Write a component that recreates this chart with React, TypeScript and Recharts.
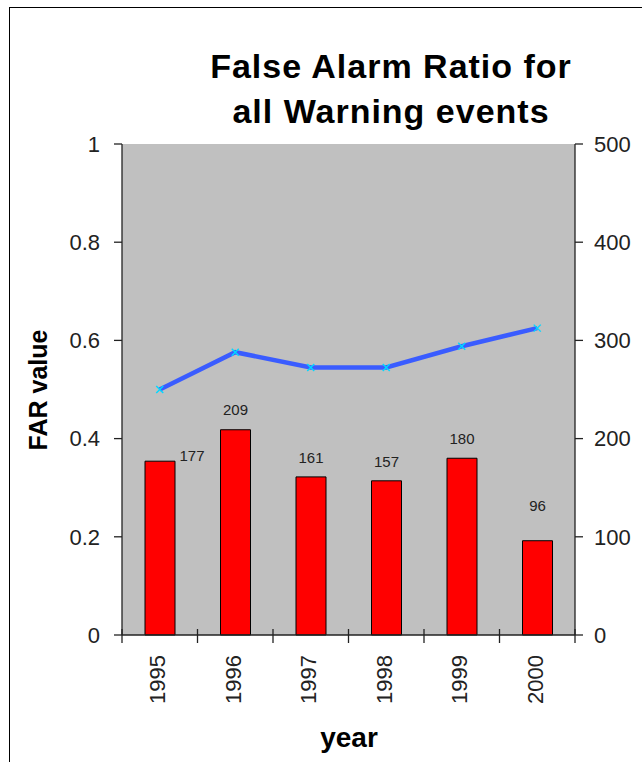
import React from "react";
import {
  ComposedChart,
  Bar,
  Line,
  XAxis,
  YAxis,
  CartesianGrid,
  LabelList,
} from "recharts";

const years = ["1995", "1996", "1997", "1998", "1999", "2000"];
const warningCounts = [177, 209, 161, 157, 180, 96];
const farValues = [0.5, 0.576, 0.545, 0.545, 0.588, 0.625];
const leftTicks = [0, 0.2, 0.4, 0.6, 0.8, 1];
const rightTicks = [0, 100, 200, 300, 400, 500];

const data = years.map((y, i) => ({
  year: y,
  count: warningCounts[i],
  far: farValues[i],
}));

// label placement tweaks (Excel labels were dragged by hand)
const labelShift = [
  { dx: 32, dy: 0 },
  { dx: 0, dy: -15 },
  { dx: 0, dy: -14 },
  { dx: 0, dy: -14 },
  { dx: 0, dy: -14 },
  { dx: 0, dy: -30 },
];

const FONT = "'Liberation Sans', Arial, Helvetica, sans-serif";

const XTick = (props: any) => {
  const { x, y, payload, index, visibleTicksCount } = props;
  const half = payload && payload.offset ? payload.offset : 37.75;
  const ay = 635;
  const lx = x - half;
  const isLast = index === (visibleTicksCount ?? 6) - 1;
  return (
    <g>
      <line x1={lx} y1={ay - 6} x2={lx} y2={ay + 8} stroke="#222" strokeWidth={1.3} />
      {isLast && (
        <line x1={x + half} y1={ay - 6} x2={x + half} y2={ay + 8} stroke="#222" strokeWidth={1.3} />
      )}
      <text
        x={0}
        y={0}
        transform={`translate(${x - 2},${ay + 20}) rotate(-90)`}
        textAnchor="end"
        dy="0.35em"
        fontSize={22}
        fill="#222"
        fontFamily={FONT}
      >
        {payload.value}
      </text>
    </g>
  );
};

const XMark = (props: any) => {
  const { cx, cy } = props;
  if (cx == null || cy == null) return null;
  const s = 3.5;
  return (
    <g>
      <line x1={cx - s} y1={cy - s} x2={cx + s} y2={cy + s} stroke="#00d8ff" strokeWidth={1.4} />
      <line x1={cx - s} y1={cy + s} x2={cx + s} y2={cy - s} stroke="#00d8ff" strokeWidth={1.4} />
    </g>
  );
};

const BarLabel = (props: any) => {
  const { x, y, width, value, index } = props;
  const sh = labelShift[index] || { dx: 0, dy: -14 };
  return (
    <text
      x={x + width / 2 + sh.dx}
      y={y + sh.dy}
      textAnchor="middle"
      fontSize={15}
      fill="#222"
      fontFamily={FONT}
    >
      {value}
    </text>
  );
};

export default function App() {
  return (
    <div
      style={{
        position: "absolute",
        left: 0,
        top: 0,
        width: 642,
        height: 762,
        background: "#fff",
        overflow: "hidden",
        fontFamily: FONT,
      }}
    >
      <div
        style={{
          position: "absolute",
          left: 9,
          top: 7,
          width: 640,
          height: 760,
          borderLeft: "1.5px solid #000",
          borderTop: "1.5px solid #000",
        }}
      />
      <div
        style={{
          position: "absolute",
          left: 140,
          width: 502,
          top: 44,
          textAlign: "center",
          fontWeight: "bold",
          fontSize: 34,
          letterSpacing: 1,
          lineHeight: "45px",
          color: "#000",
        }}
      >
        False Alarm Ratio for
        <br />
        all Warning events
      </div>
      <div style={{ position: "absolute", left: 0, top: 0 }}>
        <ComposedChart
          width={642}
          height={762}
          data={data}
          margin={{ top: 144, right: 7, bottom: 27, left: 62 }}
        >
          <CartesianGrid fill="#c0c0c0" horizontal={false} vertical={false} stroke="none" />
          <XAxis
            dataKey="year"
            xAxisId="x"
            height={100}
            tickLine={false}
            tickSize={0}
            tickMargin={0}
            axisLine={{ stroke: "#222", strokeWidth: 1.3 }}
            tick={<XTick />}
            interval={0}
          />
          <YAxis
            yAxisId="left"
            orientation="left"
            width={60}
            domain={[0, 1]}
            ticks={leftTicks}
            tickSize={8}
            tickMargin={14}
            axisLine={{ stroke: "#222", strokeWidth: 1.3 }}
            tickLine={{ stroke: "#222", strokeWidth: 1.3 }}
            tick={{ fontSize: 22, fill: "#222", fontFamily: FONT }}
          />
          <YAxis
            yAxisId="right"
            orientation="right"
            width={60}
            domain={[0, 500]}
            ticks={rightTicks}
            tickSize={8}
            tickMargin={11}
            axisLine={{ stroke: "#222", strokeWidth: 1.3 }}
            tickLine={{ stroke: "#222", strokeWidth: 1.3 }}
            tick={{ fontSize: 22, fill: "#222", fontFamily: FONT }}
          />
          <Bar
            xAxisId="x"
            yAxisId="right"
            dataKey="count"
            barSize={30}
            fill="#ff0000"
            stroke="#000"
            strokeWidth={1}
            isAnimationActive={false}
          >
            <LabelList dataKey="count" content={<BarLabel />} />
          </Bar>
          <Line
            xAxisId="x"
            yAxisId="left"
            dataKey="far"
            type="linear"
            stroke="#3a5cff"
            strokeWidth={4.5}
            dot={<XMark />}
            activeDot={false}
            isAnimationActive={false}
          />
        </ComposedChart>
      </div>
      <div
        style={{
          position: "absolute",
          left: 38,
          top: 390,
          transform: "translate(-50%, -50%) rotate(-90deg)",
          fontWeight: "bold",
          fontSize: 25,
          whiteSpace: "nowrap",
          color: "#000",
        }}
      >
        FAR value
      </div>
      <div
        style={{
          position: "absolute",
          left: 349,
          top: 738,
          transform: "translate(-50%, -50%)",
          fontWeight: "bold",
          fontSize: 28,
          whiteSpace: "nowrap",
          color: "#000",
        }}
      >
        year
      </div>
    </div>
  );
}
